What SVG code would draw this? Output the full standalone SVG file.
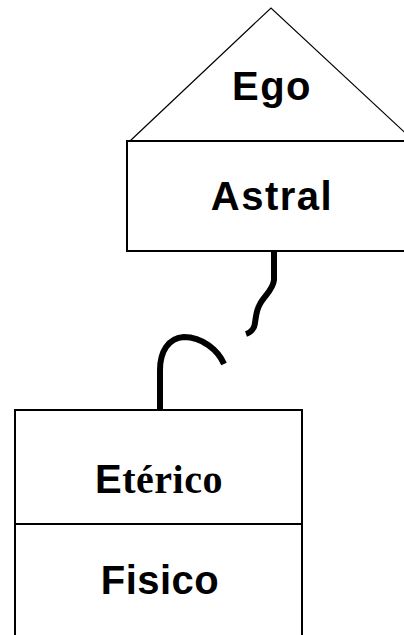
<svg xmlns="http://www.w3.org/2000/svg" width="404" height="635" viewBox="0 0 404 635">
<style>
.box{fill:#fff;stroke:#000;stroke-width:2}
.tri{fill:#fff;stroke:#000;stroke-width:1.2}
.lbl{font-family:"Liberation Sans",Arial,sans-serif;font-weight:bold;font-size:40px;fill:#000;text-anchor:middle}
.serif{font-family:"Liberation Serif","Times New Roman",serif;font-weight:bold}
.wire{fill:none;stroke:#000;stroke-width:6;stroke-linecap:butt;stroke-linejoin:round}
</style>
<rect width="404" height="635" fill="#fff"/>
<g id="ego">
<polygon class="tri" points="130,141 271,8 414,141"/>
<text class="lbl" x="272" y="100" letter-spacing="1.5">Ego</text>
</g>
<g id="astral">
<rect class="box" x="127" y="141" width="290" height="110"/>
<text class="lbl" x="272" y="210" letter-spacing="1.5">Astral</text>
</g>
<g id="etherico">
<rect class="box" x="15" y="410" width="287" height="114"/>
<text class="lbl" x="159" y="493" letter-spacing="0.5">E<tspan class="serif">térico</tspan></text>
</g>
<g id="fisico">
<rect class="box" x="15" y="524" width="287" height="120"/>
<text class="lbl" x="160" y="594" letter-spacing="0.5">Fisico</text>
</g>
<g id="connectors">
<path class="wire" d="M274,252 L274,280 C273,290 264,296 260,304 C255,312 256,322 254,327 C252,331 249,333 246,334"/>
<path class="wire" d="M160,410 L160,370 C160,352 168,338 184,337 C202,337 218,350 224,364"/>
</g>
</svg>
